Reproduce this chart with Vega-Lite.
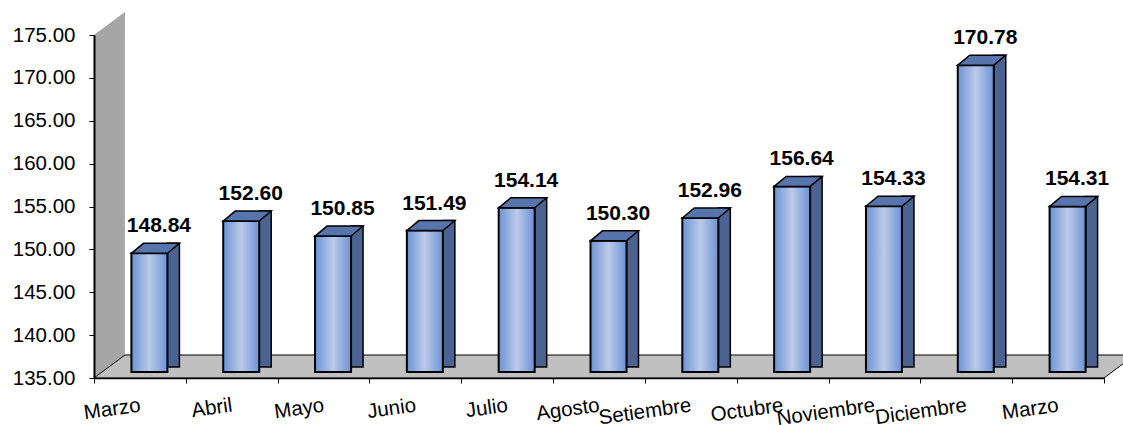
{
  "$schema": "https://vega.github.io/schema/vega-lite/v6.json",
  "width": 1010,
  "height": 343,
  "autosize": "none",
  "padding": {"left": 94, "top": 35, "right": 19, "bottom": 47},
  "background": "white",
  "config": {
    "view": {"stroke": null},
    "axis": {"domainColor": "black", "tickColor": "black", "labelColor": "black", "labelFont": "Liberation Sans"}
  },
  "datasets": {
    "precios": [
      {"periodo": "Marzo|1", "valor": 148.84},
      {"periodo": "Abril|2", "valor": 152.60},
      {"periodo": "Mayo|3", "valor": 150.85},
      {"periodo": "Junio|4", "valor": 151.49},
      {"periodo": "Julio|5", "valor": 154.14},
      {"periodo": "Agosto|6", "valor": 150.30},
      {"periodo": "Setiembre|7", "valor": 152.96},
      {"periodo": "Octubre|8", "valor": 156.64},
      {"periodo": "Noviembre|9", "valor": 154.33},
      {"periodo": "Diciembre|10", "valor": 170.78},
      {"periodo": "Marzo|11", "valor": 154.31}
    ],
    "fondo": [{"elemento": "plano"}]
  },
  "layer": [
    {
      "data": {"name": "fondo"},
      "mark": {"type": "point", "shape": "M -0.115 0 L -0.115 -0.8575 L -0.0375 -0.915 L -0.0375 -0.0575 Z", "size": 640000, "filled": true, "fill": "#a6a6a6", "strokeWidth": 0, "opacity": 1},
      "encoding": {
        "x": {"datum": "Marzo|1", "type": "nominal", "sort": null,
          "scale": {"domain": ["Marzo|1","Abril|2","Mayo|3","Junio|4","Julio|5","Agosto|6","Setiembre|7","Octubre|8","Noviembre|9","Diciembre|10","Marzo|11"], "paddingInner": 0, "paddingOuter": 0},
          "axis": {"labelExpr": "split(datum.label, '|')[0]", "labelAngle": -8, "labelAlign": "right", "labelBaseline": "middle", "labelFontSize": 20.5, "labelPadding": 22, "tickSize": 5, "tickBand": "extent", "domainWidth": 1.5, "title": null, "zindex": 1, "labelOverlap": false, "grid": false}},
        "y": {"datum": 135, "type": "quantitative",
          "scale": {"domain": [135, 175], "nice": false, "zero": false},
          "axis": {"values": [135,140,145,150,155,160,165,170,175], "format": ".2f", "labelFontSize": 20.5, "labelPadding": 14, "tickSize": 5, "domainWidth": 2, "title": null, "zindex": 1, "grid": false}}
      }
    },
    {
      "data": {"name": "fondo"},
      "mark": {"type": "point", "shape": "M -0.0418 0 L -0.0136 -0.0209 L 0.9045 -0.0209 L 0.8764 0 Z", "size": 4840000, "filled": true, "fill": "#c0c0c0", "stroke": "black", "strokeWidth": 1, "opacity": 1},
      "encoding": {
        "x": {"datum": "Marzo|1", "type": "nominal"},
        "y": {"datum": 135, "type": "quantitative"}
      }
    },
    {
      "data": {"name": "precios"},
      "mark": {"type": "bar", "width": 12, "xOffset": 33.5, "yOffset": -16, "y2Offset": -11, "fill": "#4a6391", "stroke": "black", "strokeWidth": 1.5},
      "encoding": {
        "x": {"field": "periodo", "type": "nominal"},
        "y": {"field": "valor", "type": "quantitative"},
        "y2": {"datum": 135}
      }
    },
    {
      "data": {"name": "precios"},
      "mark": {"type": "bar", "width": 36, "xOffset": 9.5, "yOffset": -6, "y2Offset": -6, "stroke": "black", "strokeWidth": 2,
        "fill": {"gradient": "linear", "x1": 0, "y1": 0, "x2": 1, "y2": 0,
          "stops": [{"offset": 0, "color": "#6b93d6"}, {"offset": 0.5, "color": "#bccae9"}, {"offset": 1, "color": "#6b93d6"}]}},
      "encoding": {
        "x": {"field": "periodo", "type": "nominal"},
        "y": {"field": "valor", "type": "quantitative"},
        "y2": {"datum": 135}
      }
    },
    {
      "data": {"name": "precios"},
      "mark": {"type": "point", "shape": "M -0.36 0 L -0.12 -0.2 L 0.6 -0.2 L 0.36 0 Z", "size": 10000, "filled": true, "fill": "#5874ad", "stroke": "black", "strokeWidth": 1.5, "opacity": 1, "xOffset": 9.5, "yOffset": -6},
      "encoding": {
        "x": {"field": "periodo", "type": "nominal"},
        "y": {"field": "valor", "type": "quantitative"}
      }
    },
    {
      "data": {"name": "precios"},
      "mark": {"type": "text", "font": "Liberation Sans", "fontWeight": "bold", "fontSize": 21, "color": "black", "baseline": "alphabetic", "align": "center", "xOffset": 19, "dy": -27},
      "encoding": {
        "x": {"field": "periodo", "type": "nominal"},
        "y": {"field": "valor", "type": "quantitative"},
        "text": {"field": "valor", "type": "quantitative", "format": ".2f"}
      }
    }
  ]
}
